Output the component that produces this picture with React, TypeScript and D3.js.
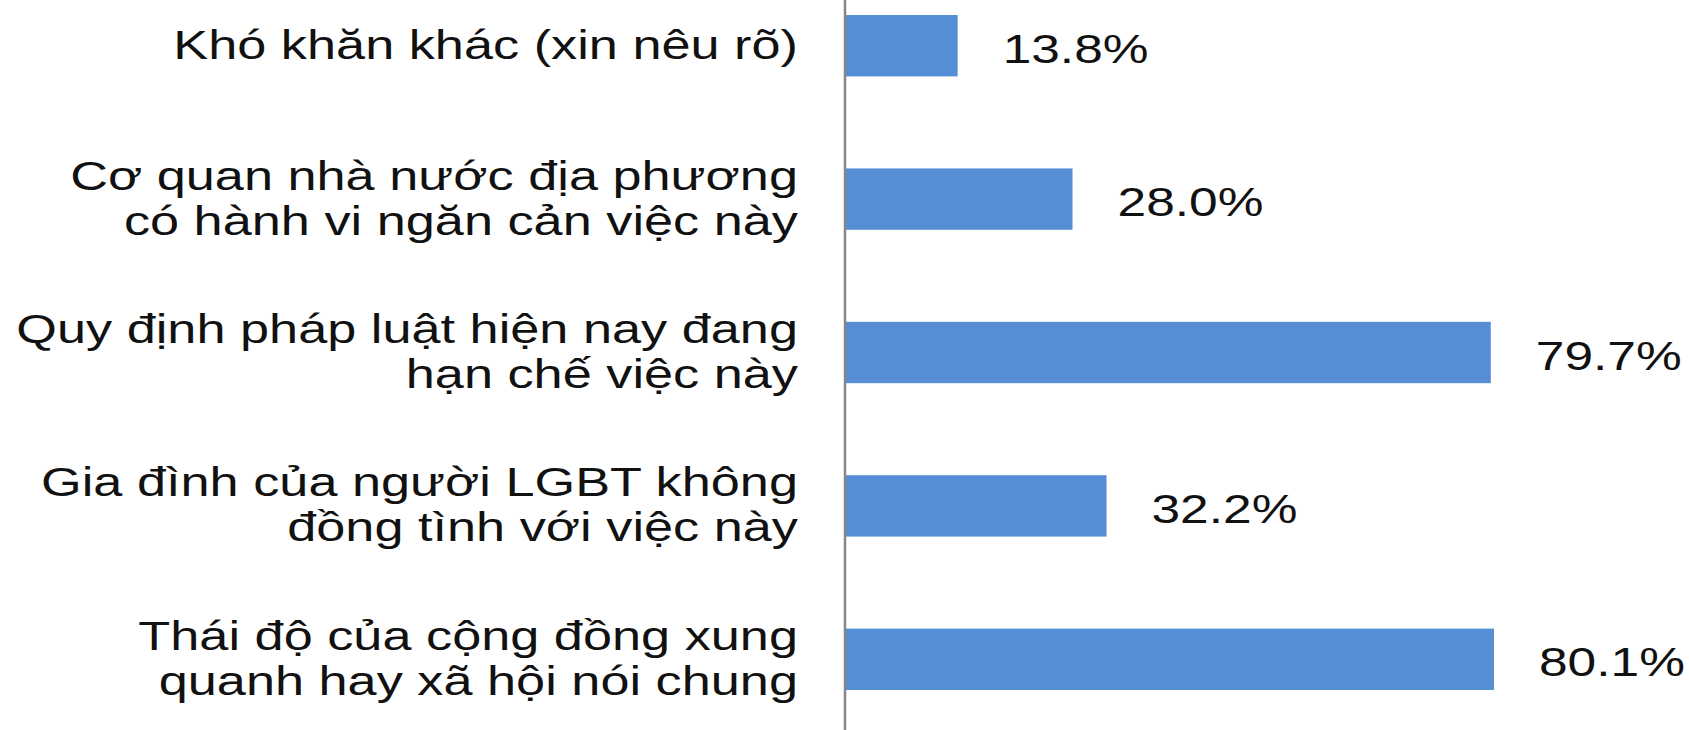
import * as d3 from "d3";
import React from "react";

const W = 1689;
const H = 730;

// categories top to bottom, each split into its lines
const categories = [
  ["Khó khăn khác (xin nêu rõ)"],
  ["Cơ quan nhà nước địa phương", "có hành vi ngăn cản việc này"],
  ["Quy định pháp luật hiện nay đang", "hạn chế việc này"],
  ["Gia đình của người LGBT không", "đồng tình với việc này"],
  ["Thái độ của cộng đồng xung", "quanh hay xã hội nói chung"],
];
const values = [13.8, 28.0, 79.7, 32.2, 80.1];
const valueLabels = ["13.8%", "28.0%", "79.7%", "32.2%", "80.1%"];

const axisX = 845;
const font = "'Liberation Sans', Arial, sans-serif";
const fontSize = 41;
// the source text is drawn wider than normal
const labelStretch = 1.275;
const valueStretch = 1.255;

export default function App() {
  const ids = categories.map((_, i) => String(i));

  const y = d3
    .scaleBand<string>()
    .domain(ids)
    .range([-31, 736])
    .paddingInner(0.6)
    .paddingOuter(0.3);

  const x = d3.scaleLinear().domain([0, 100]).range([axisX + 1, axisX + 810]);

  const mid = (i: number) => (y(ids[i]) as number) + y.bandwidth() / 2;

  return (
    <svg
      width={W}
      height={H}
      style={{ position: "absolute", left: 0, top: 0, display: "block", background: "#fff" }}
    >
      {/* bars */}
      {values.map((v, i) => (
        <rect
          key={"b" + i}
          x={x(0)}
          y={y(ids[i])}
          width={x(v) - x(0)}
          height={y.bandwidth()}
          fill="#558ed5"
        />
      ))}

      {/* value labels */}
      {values.map((v, i) => (
        <g key={"v" + i} transform={`translate(${x(v) + 45},${mid(i) + 17}) scale(${valueStretch},1)`}>
          <text fontFamily={font} fontSize={fontSize} fill="#111">
            {valueLabels[i]}
          </text>
        </g>
      ))}

      {/* category labels, right aligned against the axis */}
      {categories.map((lines, i) => {
        const lh = 45;
        return (
          <g key={"c" + i} transform={`translate(798,${mid(i) + 13}) scale(${labelStretch},1)`}>
            <text textAnchor="end" fontFamily={font} fontSize={fontSize} fill="#111">
              {lines.map((l, j) => (
                <tspan key={j} x={0} y={(j - (lines.length - 1) / 2) * lh}>
                  {l}
                </tspan>
              ))}
            </text>
          </g>
        );
      })}

      {/* category axis line */}
      <line x1={axisX} x2={axisX} y1={0} y2={H} stroke="#868686" strokeWidth={2.5} />
    </svg>
  );
}
